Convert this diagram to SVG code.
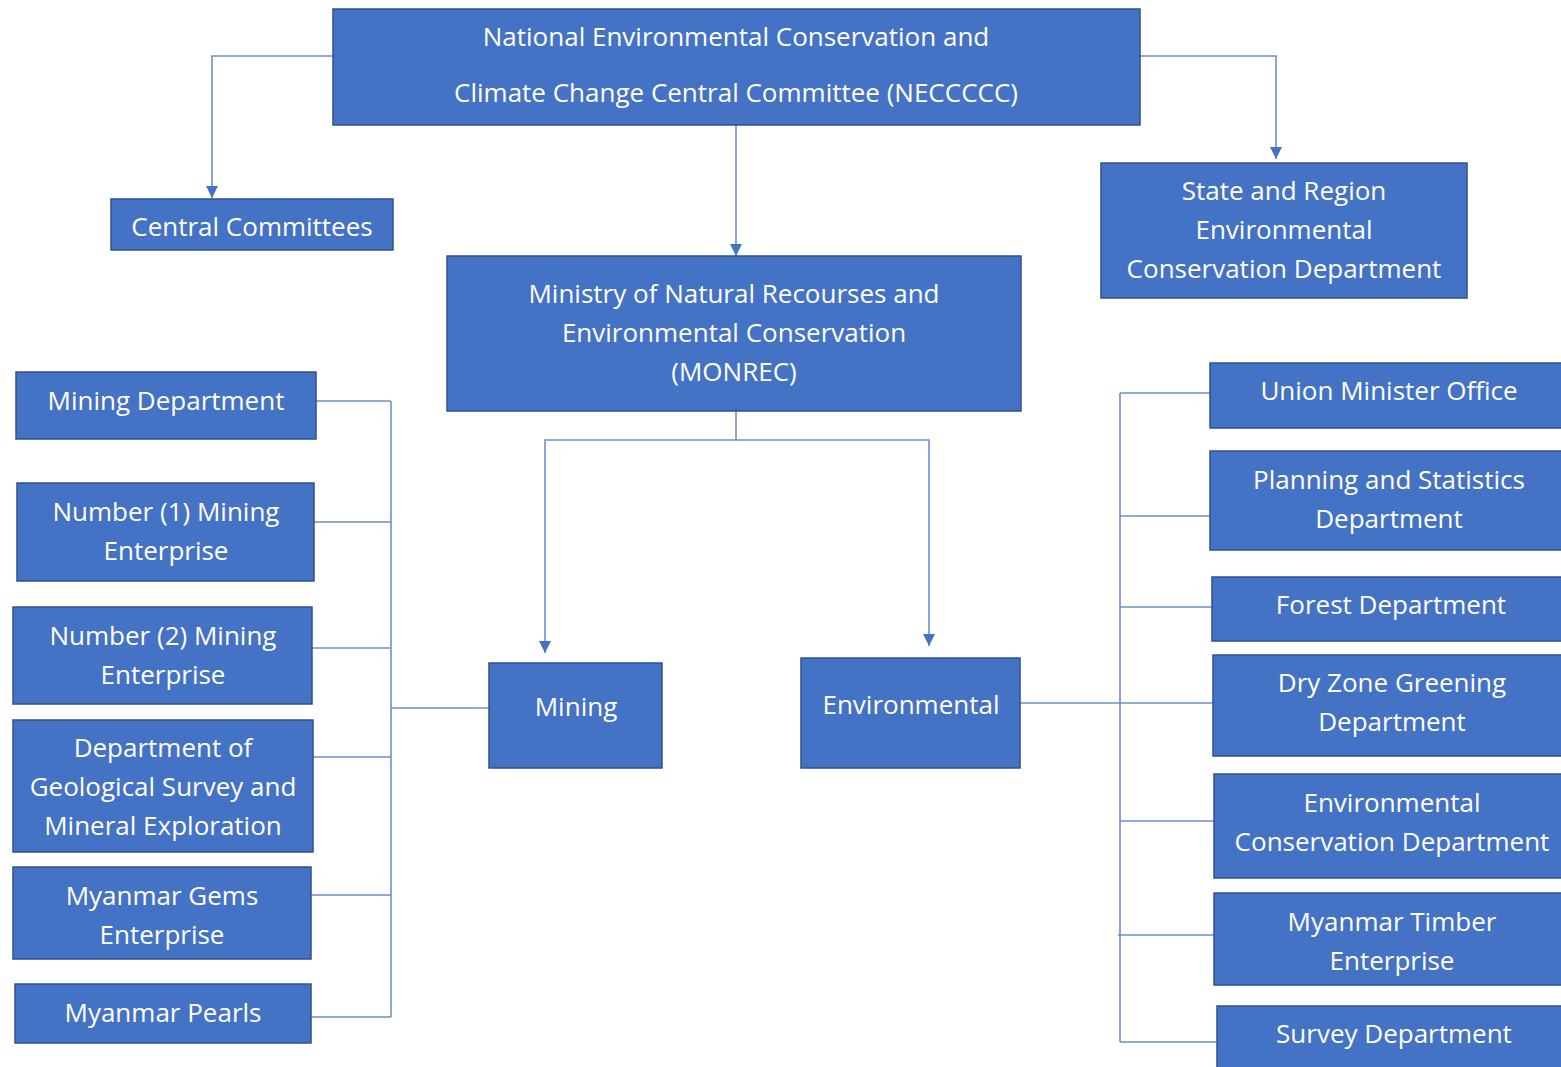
<svg xmlns="http://www.w3.org/2000/svg" width="1561" height="1067" viewBox="0 0 1561 1067">
<defs>
<style>
.box{fill:#4472C4;stroke:#2F528F;stroke-width:1.5}
.t{fill:#fff;font-family:"Open Sans","Noto Sans",sans-serif;font-size:26px;text-anchor:middle;dominant-baseline:central}
.c{fill:none;stroke:#6E8EC9;stroke-width:1.6}
</style>
<marker id="ah" viewBox="0 0 12 12" refX="12" refY="6" markerWidth="12" markerHeight="12" markerUnits="userSpaceOnUse" orient="auto">
<path d="M0,0 L12,6 L0,12 Z" fill="#4472C4"/>
</marker>
</defs>
<rect width="1561" height="1067" fill="#fff"/>
<g id="connectors">
<path class="c" d="M333,56 H212 V198" marker-end="url(#ah)"/>
<path class="c" d="M1140,56 H1276 V159" marker-end="url(#ah)"/>
<path class="c" d="M736,125 V256" marker-end="url(#ah)"/>
<path class="c" d="M736,411 V440 H545 V653" marker-end="url(#ah)"/>
<path class="c" d="M736,440 H929 V646" marker-end="url(#ah)"/>
<path class="c" d="M391,401 V1017"/>
<path class="c" d="M316,401 H391 M314,522 H391 M312,648 H391 M313,757 H391 M311,895 H391 M311,1017 H391 M391,708 H489"/>
<path class="c" d="M1120,393 V1042"/>
<path class="c" d="M1120,393 H1210 M1120,516 H1210 M1120,607 H1212 M1020,703 H1213 M1120,821 H1214 M1118,935 H1214 M1120,1042 H1217"/>
</g>
<g id="neccccc"><rect class="box" x="333" y="9" width="807" height="116"/>
<text class="t" x="736" y="36">National Environmental Conservation and</text>
<text class="t" x="736" y="92">Climate Change Central Committee (NECCCCC)</text></g>
<g id="central"><rect class="box" x="111" y="199" width="282" height="51"/>
<text class="t" x="252" y="226">Central Committees</text></g>
<g id="state"><rect class="box" x="1101" y="163" width="366" height="135"/>
<text class="t" x="1284" y="190">State and Region</text>
<text class="t" x="1284" y="229">Environmental</text>
<text class="t" x="1284" y="268">Conservation Department</text></g>
<g id="monrec"><rect class="box" x="447" y="256" width="574" height="155"/>
<text class="t" x="734" y="293">Ministry of Natural Recourses and</text>
<text class="t" x="734" y="332">Environmental Conservation</text>
<text class="t" x="734" y="371">(MONREC)</text></g>
<g id="miningdept"><rect class="box" x="16" y="372" width="300" height="67"/>
<text class="t" x="166" y="400">Mining Department</text></g>
<g id="me1"><rect class="box" x="17" y="483" width="297" height="98"/>
<text class="t" x="166" y="511">Number (1) Mining</text>
<text class="t" x="166" y="550">Enterprise</text></g>
<g id="me2"><rect class="box" x="13" y="607" width="299" height="97"/>
<text class="t" x="163" y="635">Number (2) Mining</text>
<text class="t" x="163" y="674">Enterprise</text></g>
<g id="geo"><rect class="box" x="13" y="720" width="300" height="132"/>
<text class="t" x="163" y="747">Department of</text>
<text class="t" x="163" y="786">Geological Survey and</text>
<text class="t" x="163" y="825">Mineral Exploration</text></g>
<g id="gems"><rect class="box" x="13" y="867" width="298" height="92"/>
<text class="t" x="162" y="895">Myanmar Gems</text>
<text class="t" x="162" y="934">Enterprise</text></g>
<g id="pearls"><rect class="box" x="15" y="984" width="296" height="59"/>
<text class="t" x="163" y="1012">Myanmar Pearls</text></g>
<g id="mining"><rect class="box" x="489" y="663" width="173" height="105"/>
<text class="t" x="576" y="706">Mining</text></g>
<g id="environmental"><rect class="box" x="801" y="658" width="219" height="110"/>
<text class="t" x="911" y="704">Environmental</text></g>
<g id="union"><rect class="box" x="1210" y="363" width="360" height="65"/>
<text class="t" x="1389" y="390">Union Minister Office</text></g>
<g id="planning"><rect class="box" x="1210" y="451" width="360" height="99"/>
<text class="t" x="1389" y="479">Planning and Statistics</text>
<text class="t" x="1389" y="518">Department</text></g>
<g id="forest"><rect class="box" x="1212" y="577" width="360" height="64"/>
<text class="t" x="1391" y="604">Forest Department</text></g>
<g id="dryzone"><rect class="box" x="1213" y="655" width="360" height="101"/>
<text class="t" x="1392" y="682">Dry Zone Greening</text>
<text class="t" x="1392" y="721">Department</text></g>
<g id="ecd"><rect class="box" x="1214" y="774" width="360" height="104"/>
<text class="t" x="1392" y="802">Environmental</text>
<text class="t" x="1392" y="841">Conservation Department</text></g>
<g id="timber"><rect class="box" x="1214" y="893" width="360" height="92"/>
<text class="t" x="1392" y="921">Myanmar Timber</text>
<text class="t" x="1392" y="960">Enterprise</text></g>
<g id="survey"><rect class="box" x="1217" y="1006" width="360" height="70"/>
<text class="t" x="1394" y="1033">Survey Department</text></g>
</svg>
